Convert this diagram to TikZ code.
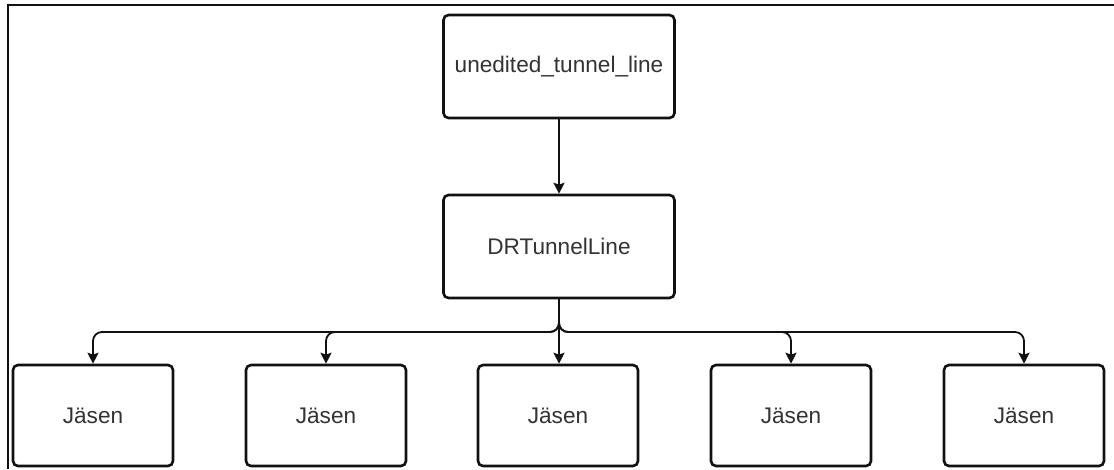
\documentclass[tikz,border=0pt]{standalone}
\usepackage{fontspec}
\setmainfont{Liberation Sans}
\usetikzlibrary{arrows.meta}
\definecolor{ink}{HTML}{111111}
\definecolor{label}{HTML}{333333}
\begin{document}
\begin{tikzpicture}[x=1pt,y=-1pt,
  box/.style={draw=ink, line width=2.6pt, rounded corners=5pt, fill=white,
    minimum width=231pt, minimum height=103pt, inner sep=0pt,
    font=\fontsize{22.6}{26}\selectfont, text=label},
  member/.style={box, minimum width=160pt, minimum height=101pt},
  link/.style={draw=ink, line width=1.8pt, rounded corners=9pt,
    -{Stealth[length=11pt,width=11pt,inset=2pt]}}]
  \useasboundingbox (0,0) rectangle (1114,469);
  \fill[white] (0,0) rectangle (1114,469);
  % frame edges
  \draw[ink, line width=2pt] (8,469) -- (8,5) -- (1114,5);

  \node[box] (raw) at (559,66.5) {unedited\_tunnel\_line};
  \node[box] (dr) at (559,246.5) {DRTunnelLine};

  \node[member] (m1) at (93,415.5) {Jäsen};
  \node[member] (m2) at (326,415.5) {Jäsen};
  \node[member] (m3) at (558,415.5) {Jäsen};
  \node[member] (m4) at (791,415.5) {Jäsen};
  \node[member] (m5) at (1024,415.5) {Jäsen};

  \draw[link] (raw.south) -- (dr.north);
  \foreach \m in {m1,m2,m4,m5}
    \draw[link] (dr.south) -- (559,332) -| (\m.north);
  \draw[link] (dr.south) -- (m3.north -| dr.south);
\end{tikzpicture}
\end{document}
